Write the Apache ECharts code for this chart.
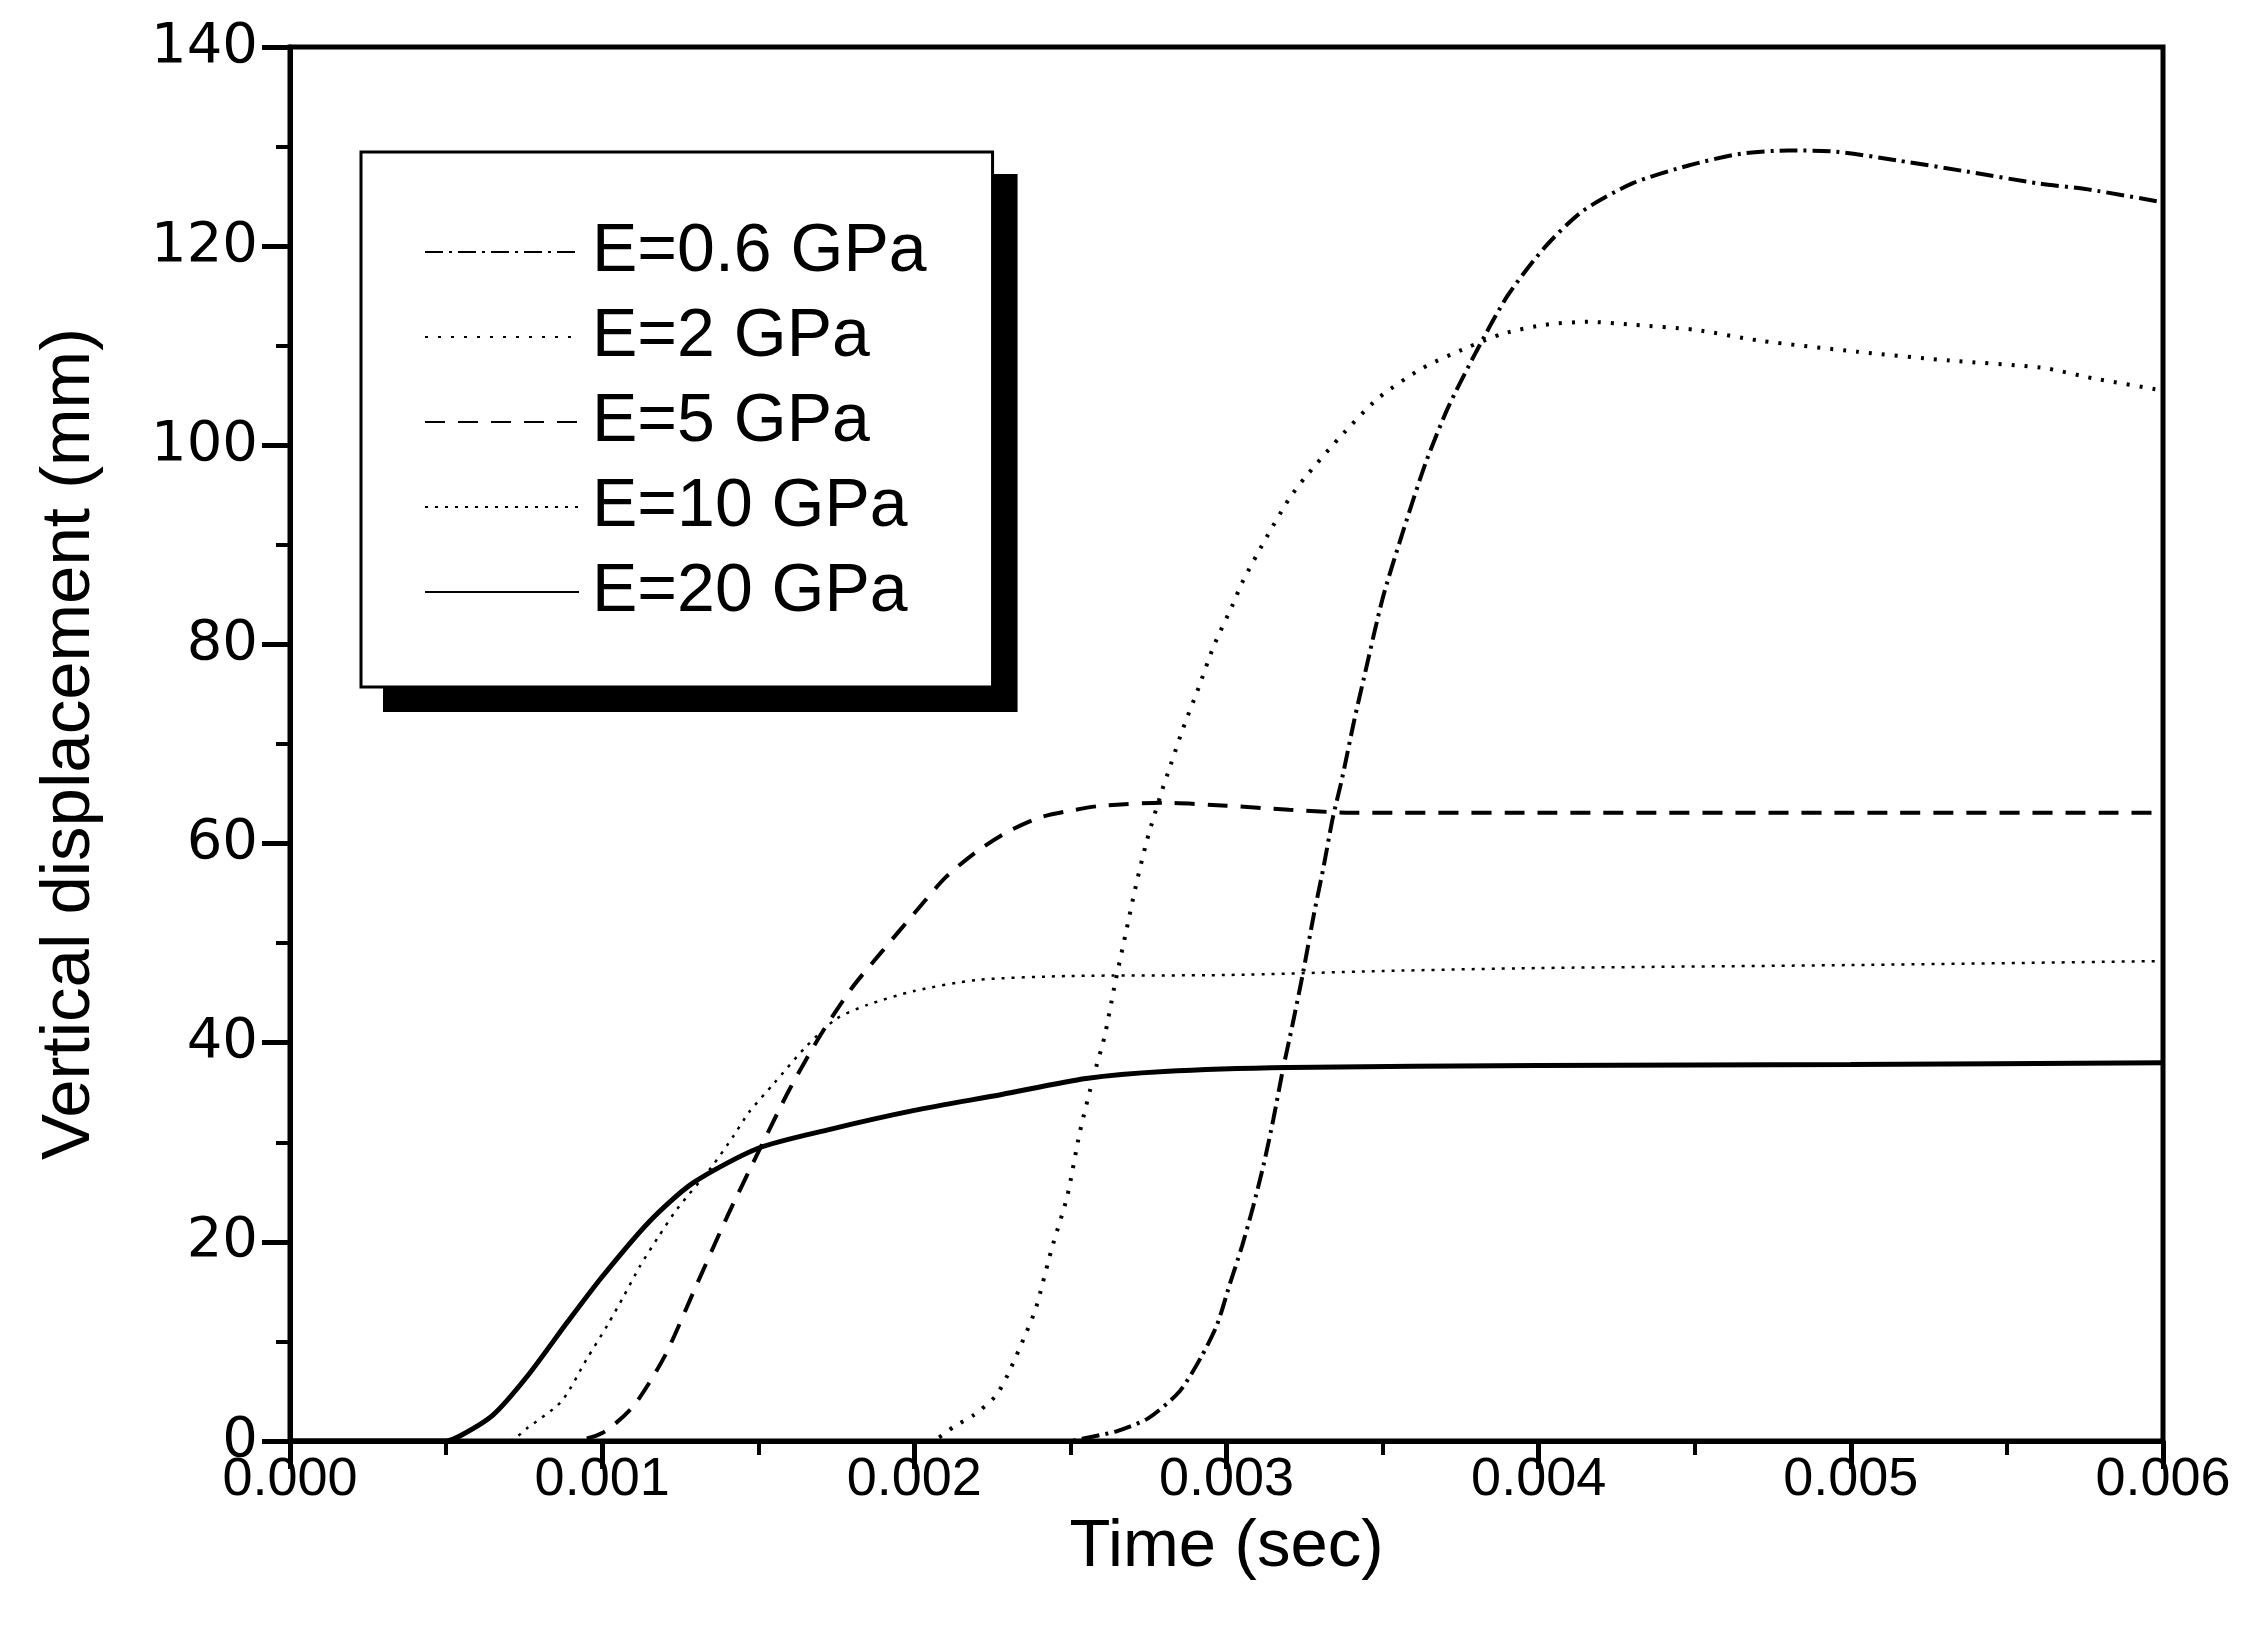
<!DOCTYPE html>
<html>
<head>
<meta charset="utf-8">
<script src="https://cdn.jsdelivr.net/npm/echarts@6/dist/echarts.min.js"></script>
<style>
html,body{margin:0;padding:0;background:#fff;}
#chart{width:2244px;height:1638px;}
</style>
</head>
<body>
<div id="chart"></div>
<script>
// ---- data (time in seconds, vertical displacement in mm) ----
var seriesNames = ['E=0.6 GPa', 'E=2 GPa', 'E=5 GPa', 'E=10 GPa', 'E=20 GPa'];

var t06 = [0, 0.00250, 0.00255, 0.00265, 0.00275, 0.00285, 0.00292, 0.00297, 0.00301, 0.00305, 0.003085, 0.00312, 0.00315, 0.00318, 0.00321, 0.003245, 0.00328, 0.00331, 0.00334, 0.00337, 0.00341, 0.00344, 0.00350, 0.003565, 0.00364, 0.00371, 0.00380, 0.00390, 0.00402, 0.00414, 0.00430, 0.00448, 0.00465, 0.00480, 0.00495, 0.00515, 0.00537, 0.00560, 0.00576, 0.00600];
var v06 = [0, 0, 0.3, 1.0, 2.3, 5.0, 8.5, 11.7, 15.7, 19.6, 23.5, 27.9, 32.3, 37.2, 41.6, 47.0, 52.9, 57.5, 62.5, 66.5, 72.5, 76.6, 84.6, 91.3, 98.4, 103.8, 109.4, 115.0, 119.9, 123.5, 126.3, 128.1, 129.3, 129.6, 129.5, 128.6, 127.5, 126.3, 125.7, 124.4];

var t2 = [0, 0.00205, 0.00213, 0.00219, 0.00226, 0.00230, 0.00236, 0.00239, 0.00244, 0.00249, 0.00253, 0.002575, 0.00261, 0.00264, 0.00268, 0.00271, 0.002745, 0.00279, 0.00282, 0.00286, 0.00291, 0.00296, 0.00302, 0.00305, 0.00312, 0.00320, 0.00325, 0.00336, 0.003485, 0.003625, 0.00377, 0.003885, 0.00402, 0.00416, 0.00430, 0.00450, 0.00471, 0.00502, 0.00532, 0.00561, 0.00578, 0.00600];
var v2 = [0, 0, 1.5, 2.6, 4.5, 6.7, 11.0, 13.4, 19.3, 24.6, 31.0, 36.7, 40.7, 45.5, 51.4, 55.8, 60.3, 65.0, 67.8, 71.5, 75.6, 79.9, 84.0, 86.2, 90.3, 94.6, 96.7, 100.7, 104.7, 107.7, 109.8, 111.2, 112.1, 112.4, 112.1, 111.6, 110.5, 109.4, 108.5, 107.8, 106.7, 105.5];

var t5 = [0, 0.00090, 0.00100, 0.00110, 0.00120, 0.00130, 0.00140, 0.00150, 0.00160, 0.00170, 0.00180, 0.00190, 0.00200, 0.00210, 0.00220, 0.00230, 0.00240, 0.00250, 0.00260, 0.00280, 0.00300, 0.00320, 0.00340, 0.00400, 0.00500, 0.00600];
var v5 = [0, 0, 0.8, 3.5, 8.5, 15.5, 22.5, 29.0, 35.3, 40.8, 45.5, 49.3, 53.0, 56.6, 59.2, 61.2, 62.6, 63.3, 63.8, 64.1, 63.8, 63.4, 63.1, 63.1, 63.1, 63.1];

var t10 = [0, 0.00070, 0.00076, 0.00087, 0.00095, 0.00102, 0.00107, 0.00112, 0.00118, 0.00124, 0.00135, 0.00142, 0.00147, 0.00155, 0.00165, 0.00175, 0.00185, 0.00200, 0.00220, 0.00250, 0.00300, 0.00350, 0.00400, 0.00500, 0.00600];
var v10 = [0, 0, 1.3, 4.0, 8.2, 11.8, 14.6, 17.5, 20.5, 23.3, 27.5, 30.6, 33.0, 35.9, 39.5, 42.4, 43.8, 45.2, 46.3, 46.7, 46.8, 47.2, 47.5, 47.8, 48.2];

var t20 = [0, 0.00050, 0.00055, 0.00065, 0.00076, 0.00089, 0.00100, 0.00115, 0.00129, 0.00150, 0.00173, 0.00200, 0.00228, 0.00255, 0.00280, 0.00320, 0.00400, 0.00500, 0.00600];
var v20 = [0, 0, 0.6, 2.6, 6.5, 12.0, 16.5, 22.0, 25.9, 29.4, 31.3, 33.2, 34.8, 36.4, 37.1, 37.5, 37.7, 37.8, 38.0];

var xTickLabels = ['0.000', '0.001', '0.002', '0.003', '0.004', '0.005', '0.006'];
var yTickLabels = ['0', '20', '40', '60', '80', '100', '120', '140'];

function pairs(t, v) { return t.map(function (x, i) { return [x, v[i]]; }); }

var FONT = "'Liberation Sans', Arial, sans-serif";

var chart = echarts.init(document.getElementById('chart'), null, { renderer: 'canvas' });

var lineStyles = [
  { type: [18, 6, 3, 6], width: 4 },
  { type: [3, 10], width: 4 },
  { type: [20, 13], width: 4 },
  { type: [3, 7], width: 2.5 },
  { type: 'solid', width: 5 }
];
var dataSets = [pairs(t06, v06), pairs(t2, v2), pairs(t5, v5), pairs(t10, v10), pairs(t20, v20)];

var series = seriesNames.map(function (name, i) {
  return {
    name: name,
    type: 'line',
    data: dataSets[i],
    showSymbol: false,
    symbol: 'none',
    smooth: 0.25,
    lineStyle: { color: '#000', width: lineStyles[i].width, type: lineStyles[i].type },
    itemStyle: { color: '#000' },
    z: 3 + i
  };
});

// legend box geometry (decoration only)
var legendBox = { left: 361, top: 152, shadow: 22 };

chart.setOption({
  animation: false,
  backgroundColor: '#fff',
  grid: {
    left: 290, right: 81, top: 47, bottom: 197,
    show: true, borderColor: '#000', borderWidth: 5, backgroundColor: 'transparent'
  },
  legend: {
    orient: 'vertical',
    left: legendBox.left, top: legendBox.top,
    z: 10,
    data: seriesNames,
    itemWidth: 154, itemHeight: 20, itemGap: 17,
    padding: [66, 66, 61, 63],
    backgroundColor: '#fff',
    borderColor: '#000', borderWidth: 3,
    textStyle: { fontFamily: FONT, fontSize: 68, color: '#000', lineHeight: 64, padding: [0, 0, 0, 8] },
    itemStyle: { opacity: 0 },
    selectedMode: false
  },
  xAxis: {
    type: 'value',
    min: 0, max: 0.006, interval: 0.001,
    name: 'Time (sec)',
    nameLocation: 'middle',
    nameGap: 73,
    nameTextStyle: { fontFamily: FONT, fontSize: 67, color: '#000' },
    axisLine: { show: true, onZero: false, lineStyle: { color: '#000', width: 5 } },
    axisTick: { show: true, inside: false, length: 28, lineStyle: { color: '#000', width: 5 } },
    minorTick: { show: true, splitNumber: 2, length: 14, lineStyle: { color: '#000', width: 4 } },
    splitLine: { show: false },
    axisLabel: {
      fontFamily: FONT, fontSize: 54, color: '#000', margin: 12,
      formatter: function (v) { return xTickLabels[Math.round(v * 1000)]; }
    }
  },
  yAxis: {
    type: 'value',
    min: 0, max: 140, interval: 20,
    name: 'Vertical displacement (mm)',
    nameLocation: 'middle',
    nameGap: 186,
    nameTextStyle: { fontFamily: FONT, fontSize: 69, color: '#000' },
    axisLine: { show: true, onZero: false, lineStyle: { color: '#000', width: 5 } },
    axisTick: { show: true, inside: false, length: 28, lineStyle: { color: '#000', width: 5 } },
    minorTick: { show: true, splitNumber: 2, length: 14, lineStyle: { color: '#000', width: 4 } },
    splitLine: { show: false },
    axisLabel: {
      fontFamily: "'DejaVu Sans', sans-serif", fontSize: 56, color: '#000', margin: 32,
      formatter: function (v) { return yTickLabels[Math.round(v / 20)]; }
    }
  },
  series: series
});

// hard drop shadow behind the legend box, sized from the legend's laid-out rect
(function () {
  var w = 631, h = 537;
  try {
    var legendView = chart._componentsViews.filter(function (v) { return v.type === 'legend.plain'; })[0];
    var r = legendView.group.getBoundingRect();
    if (r && r.width > 0) { w = r.width; h = r.height; }
  } catch (e) {}
  chart.setOption({
    graphic: [{
      type: 'rect', z: 5, silent: true,
      shape: { x: legendBox.left + legendBox.shadow, y: legendBox.top + legendBox.shadow, width: w, height: h },
      style: { fill: '#000' }
    }]
  });
})();
</script>
</body>
</html>
